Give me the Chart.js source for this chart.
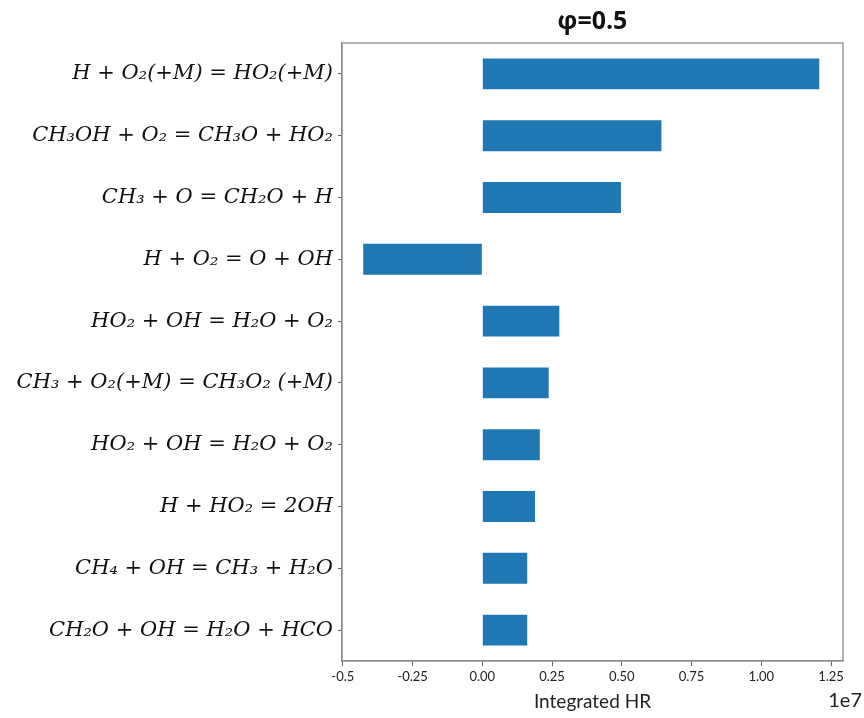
<!DOCTYPE html>
<html>
<head>
<meta charset="utf-8">
<script src="https://cdn.jsdelivr.net/npm/chart.js@4.4.1/dist/chart.umd.min.js"></script>
<style>
  html, body { margin: 0; padding: 0; background: #fff; }
  #wrap { width: 864px; height: 718px; }
</style>
</head>
<body>
<div id="wrap"><canvas id="hr-chart"></canvas></div>
<script>
// reactions, top to bottom
var reactions = [
    'H + O₂(+M) = HO₂(+M)',
    'CH₃OH + O₂ = CH₃O + HO₂',
    'CH₃ + O = CH₂O + H',
    'H + O₂ = O + OH',
    'HO₂ + OH = H₂O + O₂',
    'CH₃ + O₂(+M) = CH₃O₂ (+M)',
    'HO₂ + OH = H₂O + O₂',
    'H + HO₂ = 2OH',
    'CH₄ + OH = CH₃ + H₂O',
    'CH₂O + OH = H₂O + HCO'
];
// integrated heat release, units of 1e7
var integratedHR = [1.208, 0.642, 0.497, -0.427, 0.276, 0.238, 0.206, 0.189, 0.161, 0.161];

var xTickValues = [-0.5, -0.25, 0, 0.25, 0.5, 0.75, 1, 1.25];
var xTickLabels = ['-0.5', '-0.25', '0.00', '0.25', '0.50', '0.75', '1.00', '1.25'];

var chartTitle = 'φ=0.5';
var xAxisTitle = 'Integrated HR';
var xOffsetText = '1e7';

//box round the plot + the 1e7 multiplier
var frameAndOffset = {
    id: 'frameAndOffset',
    afterDraw: function(chart) {
        var ctx = chart.ctx;
        var a = chart.chartArea;
        ctx.save();
        ctx.strokeStyle = '#8c8c8c';
        ctx.lineWidth = 1.3;
        ctx.strokeRect(a.left, a.top, a.right - a.left, a.bottom - a.top);
        ctx.fillStyle = '#222';
        ctx.font = '20px Lato';
        ctx.textAlign = 'right';
        ctx.textBaseline = 'middle';
        ctx.fillText(xOffsetText, 862, 701);
        ctx.restore();
    }
};

new Chart(document.getElementById('hr-chart'), {
    type: 'bar',
    data: {
        labels: reactions,
        datasets: [{
            label: xAxisTitle,
            data: integratedHR,
            backgroundColor: '#1f77b4',
            borderColor: '#1f77b4',
            borderWidth: 0,
            barPercentage: 0.5,
            categoryPercentage: 1.0
        }]
    },
    options: {
        indexAxis: 'y',
        responsive: true,
        maintainAspectRatio: false,
        animation: false,
        layout: { padding: { left: 0, right: 21, top: 0, bottom: 0 } },
        plugins: {
            legend: { display: false },
            tooltip: { enabled: false },
            title: {
                display: true,
                text: chartTitle,
                fullSize: false,
                color: '#111',
                font: { family: 'Open Sans', size: 25, weight: 'bold' },
                padding: { top: 7, bottom: 6 }
            }
        },
        scales: {
            x: {
                min: -0.503,
                max: 1.293,
                afterBuildTicks: function(scale) {
                    scale.ticks = xTickValues.map(function(v) { return { value: v }; });
                },
                afterFit: function(scale) { scale.height = 57; },
                grid: { display: true, drawOnChartArea: false, drawTicks: true, tickLength: 5, color: '#666' },
                border: { display: true, color: '#8c8c8c', width: 1.3 },
                ticks: {
                    autoSkip: false,
                    maxRotation: 0,
                    padding: 3,
                    color: '#222',
                    font: { family: 'Lato', size: 13 },
                    callback: function(value, index) { return xTickLabels[index]; }
                },
                title: {
                    display: true,
                    text: xAxisTitle,
                    color: '#222',
                    font: { family: 'Lato', size: 19 },
                    padding: { top: 0, bottom: 5 }
                }
            },
            y: {
                afterFit: function(scale) { scale.width = 342; },
                grid: { display: true, offset: false, drawOnChartArea: false, drawTicks: true, tickLength: 4, color: '#666' },
                border: { display: true, color: '#8c8c8c', width: 1.3 },
                ticks: {
                    autoSkip: false,
                    padding: 5,
                    color: '#111',
                    font: { family: 'DejaVu Serif', size: 21, style: 'italic' }
                }
            }
        }
    },
    plugins: [frameAndOffset]
});
</script>
</body>
</html>
